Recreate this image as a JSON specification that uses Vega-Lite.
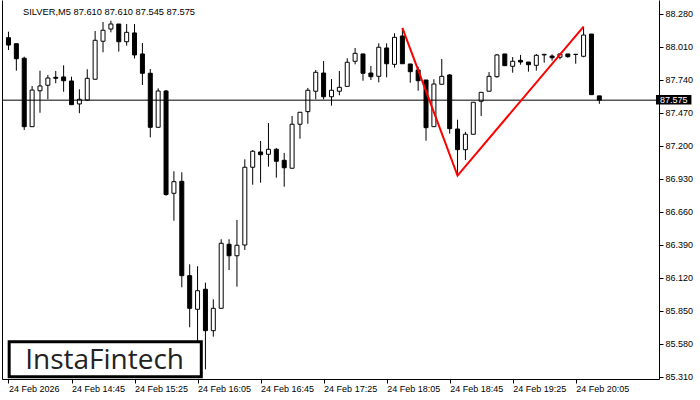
{
  "$schema": "https://vega.github.io/schema/vega-lite/v6.json",
  "width": 657,
  "height": 379,
  "autosize": {"type": "none"},
  "padding": {"left": 2, "top": 0, "right": 41, "bottom": 21},
  "background": "white",
  "config": {
    "view": {"stroke": null},
    "axis": {"labelFont": "Liberation Sans", "labelFontSize": 9, "labelColor": "#000", "domainColor": "#000", "tickColor": "#000", "grid": false, "title": null, "domainWidth": 1, "tickWidth": 1}
  },
  "resolve": {"axis": {"x": "independent", "y": "independent"}},
  "datasets": {
    "candles": [
      {"i": 0, "t": "14:05", "o": 88.086, "h": 88.135, "l": 87.985, "c": 88.026},
      {"i": 1, "t": "14:10", "o": 88.037, "h": 88.037, "l": 87.816, "c": 87.914},
      {"i": 2, "t": "14:15", "o": 87.918, "h": 87.931, "l": 87.331, "c": 87.358},
      {"i": 3, "t": "14:20", "o": 87.358, "h": 87.691, "l": 87.358, "c": 87.658},
      {"i": 4, "t": "14:25", "o": 87.652, "h": 87.816, "l": 87.472, "c": 87.691},
      {"i": 5, "t": "14:30", "o": 87.697, "h": 87.781, "l": 87.582, "c": 87.756},
      {"i": 6, "t": "14:35", "o": 87.762, "h": 87.814, "l": 87.713, "c": 87.754},
      {"i": 7, "t": "14:40", "o": 87.765, "h": 87.860, "l": 87.644, "c": 87.734},
      {"i": 8, "t": "14:45", "o": 87.732, "h": 87.767, "l": 87.538, "c": 87.538},
      {"i": 9, "t": "14:50", "o": 87.544, "h": 87.664, "l": 87.468, "c": 87.582},
      {"i": 10, "t": "14:55", "o": 87.576, "h": 87.828, "l": 87.568, "c": 87.754},
      {"i": 11, "t": "15:00", "o": 87.746, "h": 88.141, "l": 87.746, "c": 88.065},
      {"i": 12, "t": "15:05", "o": 88.057, "h": 88.215, "l": 87.967, "c": 88.147},
      {"i": 13, "t": "15:10", "o": 88.157, "h": 88.225, "l": 88.130, "c": 88.198},
      {"i": 14, "t": "15:15", "o": 88.198, "h": 88.198, "l": 87.972, "c": 88.053},
      {"i": 15, "t": "15:20", "o": 88.053, "h": 88.198, "l": 88.021, "c": 88.130},
      {"i": 16, "t": "15:25", "o": 88.125, "h": 88.198, "l": 87.916, "c": 87.945},
      {"i": 17, "t": "15:30", "o": 87.953, "h": 88.043, "l": 87.699, "c": 87.795},
      {"i": 18, "t": "15:35", "o": 87.795, "h": 87.830, "l": 87.271, "c": 87.353},
      {"i": 19, "t": "15:40", "o": 87.353, "h": 87.672, "l": 87.353, "c": 87.650},
      {"i": 20, "t": "15:45", "o": 87.650, "h": 87.658, "l": 86.793, "c": 86.803},
      {"i": 21, "t": "15:50", "o": 86.813, "h": 86.993, "l": 86.589, "c": 86.908},
      {"i": 22, "t": "15:55", "o": 86.911, "h": 86.985, "l": 86.044, "c": 86.139},
      {"i": 23, "t": "16:00", "o": 86.139, "h": 86.232, "l": 85.717, "c": 85.872},
      {"i": 24, "t": "16:05", "o": 85.864, "h": 86.216, "l": 85.572, "c": 86.016},
      {"i": 25, "t": "16:10", "o": 86.028, "h": 86.082, "l": 85.373, "c": 85.689},
      {"i": 26, "t": "16:15", "o": 85.689, "h": 85.946, "l": 85.640, "c": 85.872},
      {"i": 27, "t": "16:20", "o": 85.872, "h": 86.437, "l": 85.872, "c": 86.404},
      {"i": 28, "t": "16:25", "o": 86.396, "h": 86.437, "l": 86.185, "c": 86.302},
      {"i": 29, "t": "16:30", "o": 86.302, "h": 86.595, "l": 86.049, "c": 86.388},
      {"i": 30, "t": "16:35", "o": 86.390, "h": 87.091, "l": 86.349, "c": 87.026},
      {"i": 31, "t": "16:40", "o": 87.026, "h": 87.167, "l": 86.883, "c": 87.157},
      {"i": 32, "t": "16:45", "o": 87.151, "h": 87.241, "l": 86.900, "c": 87.129},
      {"i": 33, "t": "16:50", "o": 87.132, "h": 87.388, "l": 87.031, "c": 87.173},
      {"i": 34, "t": "16:55", "o": 87.173, "h": 87.184, "l": 86.941, "c": 87.075},
      {"i": 35, "t": "17:00", "o": 87.083, "h": 87.143, "l": 86.867, "c": 87.022},
      {"i": 36, "t": "17:05", "o": 87.018, "h": 87.445, "l": 87.018, "c": 87.378},
      {"i": 37, "t": "17:10", "o": 87.378, "h": 87.476, "l": 87.260, "c": 87.476},
      {"i": 38, "t": "17:15", "o": 87.481, "h": 87.675, "l": 87.382, "c": 87.656},
      {"i": 39, "t": "17:20", "o": 87.648, "h": 87.822, "l": 87.582, "c": 87.803},
      {"i": 40, "t": "17:25", "o": 87.797, "h": 87.895, "l": 87.582, "c": 87.603},
      {"i": 41, "t": "17:30", "o": 87.603, "h": 87.748, "l": 87.530, "c": 87.656},
      {"i": 42, "t": "17:35", "o": 87.648, "h": 87.814, "l": 87.615, "c": 87.680},
      {"i": 43, "t": "17:40", "o": 87.688, "h": 87.918, "l": 87.688, "c": 87.885},
      {"i": 44, "t": "17:45", "o": 87.893, "h": 88.002, "l": 87.868, "c": 87.958},
      {"i": 45, "t": "17:50", "o": 87.953, "h": 87.953, "l": 87.734, "c": 87.795},
      {"i": 46, "t": "17:55", "o": 87.797, "h": 87.855, "l": 87.740, "c": 87.767},
      {"i": 47, "t": "18:00", "o": 87.770, "h": 88.040, "l": 87.721, "c": 88.008},
      {"i": 48, "t": "18:05", "o": 88.002, "h": 88.040, "l": 87.762, "c": 87.873},
      {"i": 49, "t": "18:10", "o": 87.868, "h": 88.122, "l": 87.841, "c": 88.089},
      {"i": 50, "t": "18:15", "o": 88.100, "h": 88.160, "l": 87.873, "c": 87.873},
      {"i": 51, "t": "18:20", "o": 87.871, "h": 87.871, "l": 87.718, "c": 87.808},
      {"i": 52, "t": "18:25", "o": 87.822, "h": 87.849, "l": 87.652, "c": 87.734},
      {"i": 53, "t": "18:30", "o": 87.740, "h": 87.740, "l": 87.243, "c": 87.350},
      {"i": 54, "t": "18:35", "o": 87.358, "h": 87.746, "l": 87.358, "c": 87.707},
      {"i": 55, "t": "18:40", "o": 87.705, "h": 87.912, "l": 87.705, "c": 87.770},
      {"i": 56, "t": "18:45", "o": 87.781, "h": 87.789, "l": 87.301, "c": 87.342},
      {"i": 57, "t": "18:50", "o": 87.339, "h": 87.415, "l": 86.958, "c": 87.170},
      {"i": 58, "t": "18:55", "o": 87.170, "h": 87.315, "l": 87.085, "c": 87.296},
      {"i": 59, "t": "19:00", "o": 87.296, "h": 87.558, "l": 87.296, "c": 87.558},
      {"i": 60, "t": "19:05", "o": 87.566, "h": 87.639, "l": 87.445, "c": 87.639},
      {"i": 61, "t": "19:10", "o": 87.648, "h": 87.805, "l": 87.648, "c": 87.770},
      {"i": 62, "t": "19:15", "o": 87.767, "h": 87.953, "l": 87.759, "c": 87.945},
      {"i": 63, "t": "19:20", "o": 87.953, "h": 87.953, "l": 87.857, "c": 87.857},
      {"i": 64, "t": "19:25", "o": 87.852, "h": 87.928, "l": 87.800, "c": 87.893},
      {"i": 65, "t": "19:30", "o": 87.901, "h": 87.945, "l": 87.865, "c": 87.887},
      {"i": 66, "t": "19:35", "o": 87.887, "h": 87.887, "l": 87.808, "c": 87.865},
      {"i": 67, "t": "19:40", "o": 87.860, "h": 87.953, "l": 87.816, "c": 87.942},
      {"i": 68, "t": "19:45", "o": 87.945, "h": 87.953, "l": 87.882, "c": 87.950},
      {"i": 69, "t": "19:50", "o": 87.936, "h": 87.950, "l": 87.898, "c": 87.922},
      {"i": 70, "t": "19:55", "o": 87.926, "h": 87.953, "l": 87.909, "c": 87.953},
      {"i": 71, "t": "20:00", "o": 87.953, "h": 87.953, "l": 87.922, "c": 87.931},
      {"i": 72, "t": "20:05", "o": 87.950, "h": 87.950, "l": 87.873, "c": 87.949},
      {"i": 73, "t": "20:10", "o": 87.934, "h": 88.176, "l": 87.926, "c": 88.108},
      {"i": 74, "t": "20:15", "o": 88.116, "h": 88.116, "l": 87.620, "c": 87.620},
      {"i": 75, "t": "20:20", "o": 87.610, "h": 87.610, "l": 87.545, "c": 87.575}
    ],
    "pattern": [
      {"i": 50, "p": 88.166},
      {"i": 57, "p": 86.958},
      {"i": 73, "p": 88.176}
    ],
    "bid": [{"price": 87.575, "label": "87.575"}],
    "info": [{"title": "SILVER,M5  87.610 87.610 87.545 87.575", "logo": "InstaFintech"}]
  },
  "layer": [
    {
      "data": {"name": "candles"},
      "mark": {"type": "rule", "color": "#000", "strokeWidth": 1, "clip": true},
      "encoding": {
        "x": {"field": "i", "type": "quantitative", "scale": {"domain": [-0.1875, 81.9375], "nice": false, "zero": false},
          "axis": {"orient": "bottom", "title": null, "values": [0, 8, 16, 24, 32, 40, 48, 56, 64, 72], "labelExpr": "datum.value == 0 ? '24 Feb 2026' : datum.value == 8 ? '24 Feb 14:45' : datum.value == 16 ? '24 Feb 15:25' : datum.value == 24 ? '24 Feb 16:05' : datum.value == 32 ? '24 Feb 16:45' : datum.value == 40 ? '24 Feb 17:25' : datum.value == 48 ? '24 Feb 18:05' : datum.value == 56 ? '24 Feb 18:45' : datum.value == 64 ? '24 Feb 19:25' : '24 Feb 20:05'", "labelAlign": "left", "labelBaseline": "top", "tickSize": 4, "labelPadding": 1, "labelFlush": false, "labelOverlap": false, "domain": true}},
        "y": {"field": "l", "type": "quantitative", "scale": {"domain": [85.2936, 88.3945], "nice": false, "zero": false},
          "axis": {"orient": "left", "title": null, "labels": false, "ticks": false, "domain": true}},
        "y2": {"field": "h"}
      }
    },
    {
      "data": {"name": "candles"},
      "mark": {"type": "bar", "size": 4, "stroke": "#000", "strokeWidth": 1, "clip": true},
      "encoding": {
        "x": {"field": "i", "type": "quantitative", "scale": {"domain": [-0.1875, 81.9375], "nice": false, "zero": false}, "axis": null},
        "y": {"field": "o", "type": "quantitative", "scale": {"domain": [85.2936, 88.3945], "nice": false, "zero": false},
          "axis": {"orient": "right", "title": null, "values": [85.31, 85.58, 85.85, 86.12, 86.39, 86.66, 86.93, 87.2, 87.47, 87.74, 88.01, 88.28], "format": ".3f", "tickSize": 4, "labelPadding": 2, "labelFlush": false, "labelOverlap": false, "domain": true}},
        "y2": {"field": "c"},
        "fill": {"condition": {"test": "datum.c >= datum.o", "value": "#ffffff"}, "value": "#000000"}
      }
    },
    {
      "data": {"name": "bid"},
      "mark": {"type": "rule", "color": "#000", "strokeWidth": 1},
      "encoding": {
        "y": {"field": "price", "type": "quantitative", "scale": {"domain": [85.2936, 88.3945], "nice": false, "zero": false}, "axis": null}
      }
    },
    {
      "data": {"name": "pattern"},
      "mark": {"type": "line", "color": "#ff0000", "strokeWidth": 2},
      "encoding": {
        "x": {"field": "i", "type": "quantitative", "scale": {"domain": [-0.1875, 81.9375], "nice": false, "zero": false}, "axis": null},
        "y": {"field": "p", "type": "quantitative", "scale": {"domain": [85.2936, 88.3945], "nice": false, "zero": false}, "axis": null}
      }
    },
    {
      "data": {"name": "info"},
      "mark": {"type": "text", "font": "Liberation Sans", "fontSize": 9.3, "color": "#000", "align": "left", "baseline": "alphabetic"},
      "encoding": {
        "x": {"datum": 1.85, "type": "quantitative", "scale": {"domain": [-0.1875, 81.9375], "nice": false, "zero": false}, "axis": null},
        "y": {"datum": 88.274, "type": "quantitative", "scale": {"domain": [85.2936, 88.3945], "nice": false, "zero": false}, "axis": null},
        "text": {"field": "title"}
      }
    },
    {
      "data": {"name": "info"},
      "mark": {"type": "rect", "fill": "#ffffff", "stroke": "#000", "strokeWidth": 3},
      "encoding": {
        "x": {"datum": 0.0875, "type": "quantitative", "scale": {"domain": [-0.1875, 81.9375], "nice": false, "zero": false}, "axis": null},
        "x2": {"datum": 24.475},
        "y": {"datum": 85.598, "type": "quantitative", "scale": {"domain": [85.2936, 88.3945], "nice": false, "zero": false}, "axis": null},
        "y2": {"datum": 85.3116}
      }
    },
    {
      "data": {"name": "info"},
      "mark": {"type": "text", "font": "Open Sans", "fontSize": 28, "fontWeight": 500, "color": "#222222", "align": "center", "baseline": "alphabetic"},
      "encoding": {
        "x": {"datum": 12.2, "type": "quantitative", "scale": {"domain": [-0.1875, 81.9375], "nice": false, "zero": false}, "axis": null},
        "y": {"datum": 85.373, "type": "quantitative", "scale": {"domain": [85.2936, 88.3945], "nice": false, "zero": false}, "axis": null},
        "text": {"field": "logo"}
      }
    },
    {
      "data": {"name": "bid"},
      "mark": {"type": "rect", "fill": "#000"},
      "encoding": {
        "x": {"datum": 82.19, "type": "quantitative", "scale": {"domain": [-0.1875, 81.9375], "nice": false, "zero": false}, "axis": null},
        "x2": {"datum": 86.69},
        "y": {"datum": 87.6172, "type": "quantitative", "scale": {"domain": [85.2936, 88.3945], "nice": false, "zero": false}, "axis": null},
        "y2": {"datum": 87.5395}
      }
    },
    {
      "data": {"name": "bid"},
      "mark": {"type": "text", "font": "Liberation Sans", "fontSize": 9, "color": "#ffffff", "align": "left", "baseline": "middle"},
      "encoding": {
        "x": {"datum": 82.69, "type": "quantitative", "scale": {"domain": [-0.1875, 81.9375], "nice": false, "zero": false}, "axis": null},
        "y": {"datum": 87.578, "type": "quantitative", "scale": {"domain": [85.2936, 88.3945], "nice": false, "zero": false}, "axis": null},
        "text": {"field": "label"}
      }
    }
  ]
}
